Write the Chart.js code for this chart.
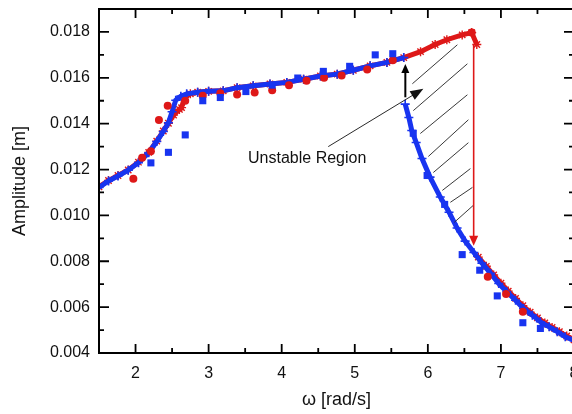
<!DOCTYPE html>
<html>
<head>
<meta charset="utf-8">
<script src="https://cdn.jsdelivr.net/npm/chart.js@4.4.1/dist/chart.umd.min.js"></script>
<style>
  html, body { margin: 0; padding: 0; background: #fff; overflow: hidden; }
  #wrap { width: 572px; height: 414px; overflow: hidden; }
</style>
</head>
<body>
<div id="wrap"><canvas id="myChart" width="600" height="414"></canvas></div>
<script>
// axis ticks
const xTicks = [2, 3, 4, 5, 6, 7, 8];
const yTicks = [0.004, 0.006, 0.008, 0.010, 0.012, 0.014, 0.016, 0.018];

// measured points [omega, amplitude]
const redCircles = [
    [1.97, 0.01160], [2.09, 0.01251], [2.21, 0.01280], [2.32, 0.01416], [2.44, 0.01478],
    [2.68, 0.01500], [2.92, 0.01522], [3.16, 0.01533], [3.39, 0.01527], [3.63, 0.01536],
    [3.87, 0.01546], [4.10, 0.01568], [4.34, 0.01587], [4.58, 0.01600], [4.82, 0.01610],
    [5.17, 0.01636], [5.52, 0.01677], [6.60, 0.01797], [6.82, 0.00732], [7.07, 0.00657],
    [7.30, 0.00580]
];
const blueSquares = [
    [2.21, 0.01229], [2.45, 0.01275], [2.68, 0.01351], [2.92, 0.01500], [3.16, 0.01514],
    [3.51, 0.01540], [3.87, 0.01568], [4.22, 0.01599], [4.57, 0.01628], [4.93, 0.01650],
    [5.28, 0.01700], [5.52, 0.01705], [5.80, 0.01358], [5.99, 0.01174], [6.23, 0.01048],
    [6.47, 0.00829], [6.71, 0.00761], [6.95, 0.00649], [7.30, 0.00532], [7.54, 0.00507]
];

// simulated sweep up (red stars)
const redUpper = [
    [1.50, 0.01125], [1.63, 0.01152], [1.76, 0.01174], [1.90, 0.01198], [2.04, 0.01232],
    [2.18, 0.01275], [2.29, 0.01324], [2.38, 0.01368], [2.45, 0.01402], [2.52, 0.01438],
    [2.60, 0.01462], [2.63, 0.01470], [2.67, 0.01515], [2.75, 0.01530], [2.85, 0.01537],
    [3.00, 0.01541], [3.20, 0.01543], [3.39, 0.01557], [3.61, 0.01565], [3.84, 0.01573],
    [4.07, 0.01580], [4.30, 0.01594], [4.53, 0.01608], [4.76, 0.01616], [4.98, 0.01633],
    [5.21, 0.01652], [5.44, 0.01667], [5.67, 0.01688], [5.90, 0.01714], [6.10, 0.01745],
    [6.26, 0.01766], [6.47, 0.01787], [6.60, 0.01797], [6.67, 0.01745]
];
const redLower = [
    [6.69, 0.00818], [6.80, 0.00778], [6.90, 0.00740], [7.00, 0.00704], [7.10, 0.00670],
    [7.20, 0.00638], [7.30, 0.00606], [7.40, 0.00578], [7.50, 0.00553], [7.60, 0.00531],
    [7.70, 0.00511], [7.80, 0.00493], [7.90, 0.00474], [8.00, 0.00458]
];

// simulated sweep down (blue crosses)
const blueUpper = [
    [1.50, 0.01122], [1.63, 0.01150], [1.76, 0.01172], [1.90, 0.01197], [2.04, 0.01230],
    [2.18, 0.01273], [2.29, 0.01322], [2.38, 0.01366], [2.45, 0.01404], [2.50, 0.01452],
    [2.55, 0.01502], [2.62, 0.01520], [2.70, 0.01530], [2.85, 0.01537], [3.00, 0.01541],
    [3.20, 0.01543], [3.39, 0.01557], [3.61, 0.01565], [3.84, 0.01573], [4.07, 0.01580],
    [4.30, 0.01594], [4.53, 0.01608], [4.76, 0.01616], [4.98, 0.01633], [5.21, 0.01652],
    [5.44, 0.01667], [5.67, 0.01688]
];
const blueLower = [
    [5.69, 0.01485], [5.74, 0.01427], [5.78, 0.01370], [5.84, 0.01318], [5.92, 0.01248],
    [6.03, 0.01167], [6.17, 0.01080], [6.29, 0.01014], [6.40, 0.00945], [6.51, 0.00888],
    [6.63, 0.00838], [6.74, 0.00792], [6.86, 0.00747], [6.97, 0.00703], [7.08, 0.00667],
    [7.20, 0.00630], [7.31, 0.00594], [7.43, 0.00565], [7.54, 0.00536], [7.66, 0.00514],
    [7.77, 0.00493], [7.88, 0.00471], [8.00, 0.00455]
];

// annotations (data units)
const hatchLines = [
    [5.788, 0.01574, 6.404, 0.01744],
    [5.801, 0.01457, 6.541, 0.01661],
    [5.897, 0.01357, 6.541, 0.01526],
    [6.007, 0.01257, 6.555, 0.01417],
    [6.075, 0.01187, 6.555, 0.01317],
    [6.199, 0.01109, 6.582, 0.01204],
    [6.308, 0.01057, 6.610, 0.01122],
    [6.363, 0.00970, 6.623, 0.01044]
];
const jumpUp = [5.692, 0.01515, 5.692, 0.01660];
const jumpDown = [6.627, 0.01745, 6.627, 0.00868];
const pointer = [4.637, 0.01300, 5.938, 0.01552];
const labelPos = [4.349, 0.01248];
const labelText = 'Unstable Region';

const RED = 'rgb(222, 24, 24)';
const BLUE = 'rgb(24, 52, 240)';
const FONT = "'Liberation Sans', Arial, sans-serif";

const toXY = arr => arr.map(p => ({ x: p[0], y: p[1] }));

function drawArrow(ctx, x1, y1, x2, y2, color, width, len, half) {
    const a = Math.atan2(y2 - y1, x2 - x1);
    ctx.save();
    ctx.strokeStyle = color;
    ctx.fillStyle = color;
    ctx.lineWidth = width;
    ctx.beginPath();
    ctx.moveTo(x1, y1);
    ctx.lineTo(x2 - Math.cos(a) * len * 0.6, y2 - Math.sin(a) * len * 0.6);
    ctx.stroke();
    ctx.beginPath();
    ctx.moveTo(x2, y2);
    ctx.lineTo(x2 - Math.cos(a) * len - Math.sin(a) * half, y2 - Math.sin(a) * len + Math.cos(a) * half);
    ctx.lineTo(x2 - Math.cos(a) * len + Math.sin(a) * half, y2 - Math.sin(a) * len - Math.cos(a) * half);
    ctx.closePath();
    ctx.fill();
    ctx.restore();
}

const annotations = {
    id: 'annotations',
    afterDatasetsDraw(chart) {
        const { ctx } = chart;
        const sx = chart.scales.x, sy = chart.scales.y;
        const X = v => sx.getPixelForValue(v), Y = v => sy.getPixelForValue(v);

        ctx.save();
        ctx.strokeStyle = '#222';
        ctx.lineWidth = 0.9;
        hatchLines.forEach(h => {
            ctx.beginPath();
            ctx.moveTo(X(h[0]), Y(h[1]));
            ctx.lineTo(X(h[2]), Y(h[3]));
            ctx.stroke();
        });
        ctx.restore();

        drawArrow(ctx, X(pointer[0]), Y(pointer[1]), X(pointer[2]), Y(pointer[3]), '#111', 0.9, 13, 5);
        drawArrow(ctx, X(jumpUp[0]), Y(jumpUp[1]), X(jumpUp[2]), Y(jumpUp[3]), '#000', 2, 9, 4);
        drawArrow(ctx, X(jumpDown[0]), Y(jumpDown[1]), X(jumpDown[2]), Y(jumpDown[3]), RED, 1.6, 10, 4.5);

        ctx.save();
        ctx.fillStyle = '#111';
        ctx.font = '16px ' + FONT;
        ctx.textAlign = 'center';
        ctx.textBaseline = 'middle';
        ctx.fillText(labelText, X(labelPos[0]), Y(labelPos[1]));
        ctx.restore();
    },
    afterDraw(chart) {
        const { ctx, chartArea: a } = chart;
        const sx = chart.scales.x, sy = chart.scales.y;
        ctx.save();
        ctx.strokeStyle = '#000';
        ctx.lineWidth = 2;
        ctx.strokeRect(a.left, a.top, a.right - a.left, a.bottom - a.top);
        ctx.lineWidth = 1.8;
        ctx.beginPath();
        for (let i = 0; i < xTicks.length; i++) {
            const v = xTicks[i];
            [[v, 9], [v - 0.5, 5]].forEach(([t, l]) => {
                if (t <= sx.min || t >= sx.max) return;
                const p = sx.getPixelForValue(t);
                ctx.moveTo(p, a.bottom); ctx.lineTo(p, a.bottom - l);
                ctx.moveTo(p, a.top); ctx.lineTo(p, a.top + l);
            });
        }
        for (let i = 0; i < yTicks.length; i++) {
            const v = yTicks[i];
            [[v, 10], [v + 0.001, 5]].forEach(([t, l]) => {
                if (t <= sy.min + 1e-9 || t >= sy.max - 1e-9) return;
                const p = sy.getPixelForValue(t);
                ctx.moveTo(a.left, p); ctx.lineTo(a.left + l, p);
                ctx.moveTo(a.right, p); ctx.lineTo(a.right - l, p);
            });
        }
        ctx.stroke();
        ctx.restore();
    }
};

Chart.defaults.font.family = FONT;
Chart.defaults.color = '#111';

const starStyle = { showLine: true, borderColor: RED, borderWidth: 5, pointStyle: 'star', pointRadius: 4.5, pointBorderWidth: 1.4, pointBorderColor: RED, pointBackgroundColor: RED };
const crossStyle = { showLine: true, borderColor: BLUE, borderWidth: 5, pointStyle: 'cross', pointRadius: 4.5, pointBorderWidth: 1.6, pointBorderColor: BLUE };

// first dataset is drawn on top
new Chart(document.getElementById('myChart'), {
    type: 'scatter',
    data: {
        datasets: [
            { label: 'exp. squares', data: toXY(blueSquares), pointStyle: 'rect', pointRadius: 5, pointBorderWidth: 0, pointBackgroundColor: BLUE },
            { label: 'exp. circles', data: toXY(redCircles), pointStyle: 'circle', pointRadius: 4, pointBorderWidth: 0, pointBackgroundColor: RED },
            Object.assign({ label: 'sweep down', data: toXY(blueLower) }, crossStyle),
            Object.assign({ label: 'sweep down upper', data: toXY(blueUpper) }, crossStyle),
            Object.assign({ label: 'sweep up lower', data: toXY(redLower) }, starStyle),
            Object.assign({ label: 'sweep up', data: toXY(redUpper) }, starStyle)
        ]
    },
    options: {
        responsive: false,
        animation: false,
        layout: { padding: { top: 9, right: 26, left: 0, bottom: 0 } },
        scales: {
            x: {
                type: 'linear',
                min: 1.5,
                max: 8,
                afterBuildTicks: axis => { axis.ticks = xTicks.map(v => ({ value: v })); },
                afterFit: scale => { scale.height = 61; scale.paddingLeft = 0; scale.paddingRight = 0; },
                grid: { display: false, drawTicks: false },
                border: { display: false },
                ticks: { autoSkip: false, maxRotation: 0, padding: 11, font: { size: 16 }, color: '#111' },
                title: { display: true, text: 'ω [rad/s]', font: { size: 18 }, color: '#111', padding: { top: 0, bottom: 3 } }
            },
            y: {
                min: 0.004,
                max: 0.019,
                afterBuildTicks: axis => { axis.ticks = yTicks.map(v => ({ value: v })); },
                afterFit: scale => { scale.width = 99; scale.paddingTop = 0; scale.paddingBottom = 0; },
                grid: { display: false, drawTicks: false },
                border: { display: false },
                ticks: {
                    autoSkip: false,
                    padding: 9,
                    font: { size: 16 },
                    color: '#111',
                    callback: v => v.toFixed(3)
                },
                title: { display: true, text: 'Amplitude [m]', font: { size: 18 }, color: '#111', padding: { top: 9, bottom: 0 } }
            }
        },
        plugins: {
            legend: { display: false },
            tooltip: { enabled: false }
        }
    },
    plugins: [annotations]
});
</script>
</body>
</html>
